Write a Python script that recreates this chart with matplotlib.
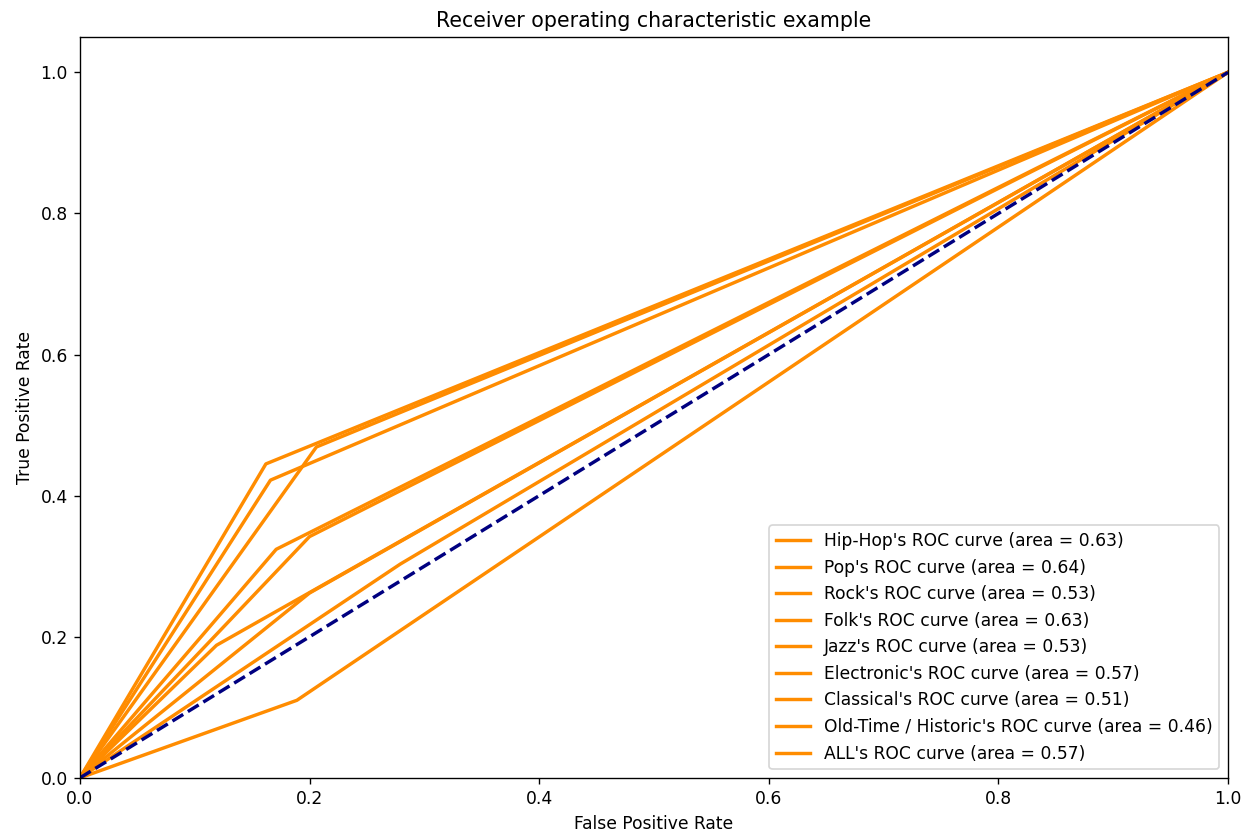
import matplotlib
matplotlib.use('Agg')
import matplotlib.pyplot as plt

# ROC operating points per genre (single threshold: (0,0) -> knee -> (1,1))
genres = ['Hip-Hop', 'Pop', 'Rock', 'Folk', 'Jazz', 'Electronic',
          'Classical', 'Old-Time / Historic', 'ALL']
knee_fpr = [0.166, 0.162, 0.119, 0.206, 0.200, 0.171, 0.279, 0.189, 0.200]
knee_tpr = [0.422, 0.445, 0.188, 0.469, 0.262, 0.324, 0.303, 0.110, 0.342]
areas = [0.63, 0.64, 0.53, 0.63, 0.53, 0.57, 0.51, 0.46, 0.57]

dpi = 123
fig = plt.figure(figsize=(1248 / dpi, 832 / dpi), dpi=dpi)
ax = fig.add_axes([0.064, 0.065, 0.920, 0.8905])

lw = 2
for name, fx, ty, auc in zip(genres, knee_fpr, knee_tpr, areas):
    ax.plot([0, fx, 1], [0, ty, 1], color='darkorange', lw=lw,
            label="%s's ROC curve (area = %0.2f)" % (name, auc))

ax.plot([0, 1], [0, 1], color='navy', lw=lw, linestyle='--')
ax.set_xlim([0.0, 1.0])
ax.set_ylim([0.0, 1.05])
ax.set_xlabel('False Positive Rate')
ax.set_ylabel('True Positive Rate')
ax.set_title('Receiver operating characteristic example')
ax.legend(loc='lower right')

fig.savefig('out.png', dpi=dpi)
